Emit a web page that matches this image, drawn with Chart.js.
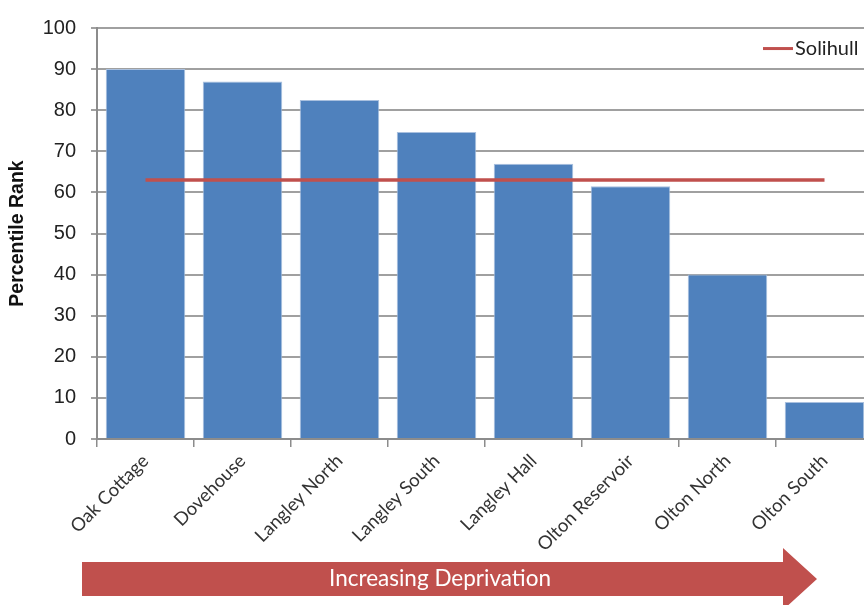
<!DOCTYPE html>
<html>
<head>
<meta charset="utf-8">
<script src="https://cdn.jsdelivr.net/npm/chart.js@4"></script>
<style>
  html, body { margin: 0; padding: 0; background: #fff; overflow: hidden; }
  #wrap { width: 900px; height: 605px; position: relative; }
</style>
</head>
<body>
<div id="wrap"><canvas id="chart"></canvas></div>
<script>
const labels = ["Oak Cottage", "Dovehouse", "Langley North", "Langley South", "Langley Hall", "Olton Reservoir", "Olton North", "Olton South"];
const wardRank = [90, 87, 82.5, 74.7, 67, 61.5, 40, 9];
const solihullRank = [63, 63, 63, 63, 63, 63, 63, 63];
const yTicks = [0, 10, 20, 30, 40, 50, 60, 70, 80, 90, 100];

Chart.defaults.font.family = 'Lato, "Liberation Sans", sans-serif';
Chart.defaults.color = '#222';

// legend and the "Increasing Deprivation" arrow are drawn by hand
const extras = {
    id: 'extras',
    afterDraw(chart) {
        const ctx = chart.ctx;
        const y = chart.scales.y;
        ctx.save();
        // legend
        const ly = (y.getPixelForValue(100) + y.getPixelForValue(90)) / 2;
        ctx.strokeStyle = '#C0504D';
        ctx.lineWidth = 3;
        ctx.beginPath();
        ctx.moveTo(763, ly);
        ctx.lineTo(793, ly);
        ctx.stroke();
        ctx.fillStyle = '#222';
        ctx.font = '20px Lato, "Liberation Sans", sans-serif';
        ctx.textBaseline = 'middle';
        ctx.fillText('Solihull', 795, ly);

        // arrow
        ctx.fillStyle = '#C0504D';
        ctx.beginPath();
        ctx.moveTo(82, 562);
        ctx.lineTo(783, 562);
        ctx.lineTo(783, 548);
        ctx.lineTo(817, 579);
        ctx.lineTo(783, 610);
        ctx.lineTo(783, 596);
        ctx.lineTo(82, 596);
        ctx.closePath();
        ctx.fill();
        ctx.fillStyle = '#fff';
        ctx.font = '22.5px Lato, "Liberation Sans", sans-serif';
        ctx.textAlign = 'center';
        ctx.fillText('Increasing Deprivation', 440, 579);
        ctx.restore();
    }
};

const data = {
    labels: labels,
    datasets: [{
            type: 'line',
            label: 'Solihull',
            data: solihullRank,
            borderColor: '#C0504D',
            borderWidth: 3.5,
            pointRadius: 0,
            order: 0
        },
        {
            type: 'bar',
            label: 'Percentile Rank',
            data: wardRank,
            backgroundColor: '#4F81BD',
            borderColor: '#a9c0df',
            borderWidth: 1,
            borderSkipped: 'bottom',
            barPercentage: 0.82,
            categoryPercentage: 1,
            order: 1
        }
    ]
};

const config = {
    type: 'bar',
    data: data,
    plugins: [extras],
    options: {
        responsive: true,
        maintainAspectRatio: false,
        animation: false,
        layout: {
            padding: { top: 28, right: 27, left: 0, bottom: 0 }
        },
        plugins: {
            legend: { display: false },
            tooltip: { enabled: false }
        },
        scales: {
            x: {
                offset: true,
                grid: {
                    offset: true,
                    drawOnChartArea: false,
                    color: '#8c8c8c',
                    lineWidth: 1.5,
                    tickLength: 8
                },
                border: { color: '#8c8c8c', width: 2 },
                ticks: {
                    autoSkip: false,
                    minRotation: 45,
                    maxRotation: 45,
                    padding: 3,
                    color: '#333',
                    font: { size: 18.5 }
                },
                afterFit: s => { s.height = 166; }
            },
            y: {
                min: 0,
                max: 100,
                afterBuildTicks: s => { s.ticks = yTicks.map(v => ({ value: v })); },
                grid: {
                    color: '#a0a0a0',
                    lineWidth: 2,
                    tickLength: 6
                },
                border: { color: '#8c8c8c', width: 2 },
                ticks: {
                    padding: 15,
                    color: '#222',
                    font: { family: '"Liberation Sans", sans-serif', size: 20 }
                },
                title: {
                    display: true,
                    text: 'Percentile Rank',
                    color: '#111',
                    font: { family: '"Liberation Sans", sans-serif', size: 19.5, weight: 'bold' },
                    padding: { top: 6, bottom: 0 }
                },
                afterFit: s => { s.width = 97; }
            }
        }
    }
};

var chart = new Chart(document.getElementById('chart'), config);
</script>
</body>
</html>
